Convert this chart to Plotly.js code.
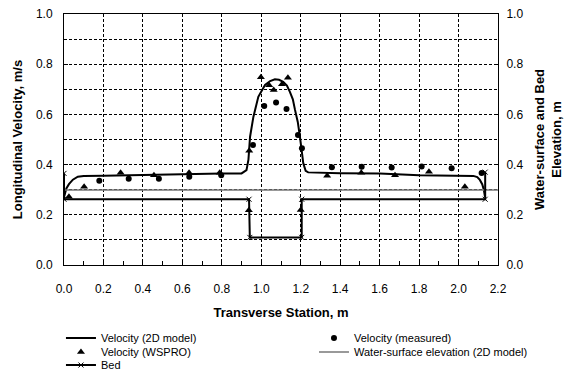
<!DOCTYPE html>
<html>
<head>
<meta charset="utf-8">
<script src="https://cdn.plot.ly/plotly-3.0.1.min.js"></script>
<style>html,body{margin:0;padding:0;background:#fff;}</style>
</head>
<body>
<div id="chart" style="width:570px;height:382px;"></div>
<script>
// Velocity (2D model)
const modelX = [0, 0.005, 0.012, 0.025, 0.045, 0.07, 0.1, 0.2, 0.4, 0.6, 0.8, 0.9, 0.925, 0.935, 0.943, 0.96, 0.985, 1.019, 1.045, 1.069, 1.09, 1.111, 1.13, 1.145, 1.16, 1.171, 1.185, 1.196, 1.205, 1.213, 1.225, 1.238, 1.4, 1.6, 1.8, 1.9, 2.0, 2.075, 2.095, 2.108, 2.12, 2.128, 2.134];
const modelV = [0.27, 0.29, 0.305, 0.322, 0.34, 0.352, 0.355, 0.356, 0.36, 0.362, 0.365, 0.365, 0.378, 0.42, 0.51, 0.59, 0.67, 0.717, 0.733, 0.74, 0.738, 0.73, 0.715, 0.69, 0.66, 0.618, 0.57, 0.511, 0.45, 0.405, 0.375, 0.369, 0.366, 0.365, 0.358, 0.357, 0.356, 0.355, 0.35, 0.339, 0.322, 0.30, 0.272];
// Velocity (measured)
const measX = [0.179, 0.328, 0.481, 0.635, 0.797, 0.958, 1.015, 1.075, 1.128, 1.186, 1.206, 1.358, 1.509, 1.661, 1.813, 1.965, 2.117];
const measV = [0.336, 0.344, 0.344, 0.352, 0.358, 0.478, 0.633, 0.647, 0.622, 0.518, 0.465, 0.389, 0.391, 0.388, 0.392, 0.385, 0.367];
// Velocity (WSPRO)
const wsproX = [0.025, 0.102, 0.287, 0.456, 0.634, 0.789, 0.937, 0.939, 0.998, 1.04, 1.063, 1.105, 1.135, 1.2, 1.334, 1.507, 1.678, 1.85, 2.032];
const wsproV = [0.272, 0.312, 0.368, 0.358, 0.368, 0.368, 0.218, 0.455, 0.748, 0.716, 0.697, 0.72, 0.746, 0.219, 0.356, 0.368, 0.358, 0.372, 0.312];
// Water-surface elevation (2D model)
const wsX = [0, 2.2];
const wsY = [0.299, 0.299];
// Bed
const bedX = [0, 0, 0.938, 0.942, 1.205, 1.205, 2.135, 2.135];
const bedY = [0.365, 0.262, 0.262, 0.11, 0.11, 0.262, 0.262, 0.37];

const FONT = 'Liberation Sans, Arial, sans-serif';

const traces = [
  {x: modelX, y: modelV, type: 'scatter', mode: 'lines', name: 'Velocity (2D model)',
   line: {color: '#000', width: 2}, legend: 'legend'},
  {x: measX, y: measV, type: 'scatter', mode: 'markers', name: 'Velocity (measured)',
   marker: {symbol: 'circle', size: 6, color: '#000'}, legend: 'legend2'},
  {x: wsproX, y: wsproV, type: 'scatter', mode: 'markers', name: 'Velocity (WSPRO)',
   marker: {symbol: 'triangle-up', size: 7, color: '#000'}, legend: 'legend3'},
  {x: wsX, y: wsY, type: 'scatter', mode: 'lines', name: 'Water-surface elevation (2D model)',
   line: {color: '#777', width: 1.5}, yaxis: 'y2', legend: 'legend4'},
  {x: bedX, y: bedY, type: 'scatter', mode: 'lines+markers', name: 'Bed',
   line: {color: '#000', width: 2}, marker: {symbol: 'x-thin-open', size: 5, color: '#000', line: {color: '#000', width: 1}},
   yaxis: 'y2', legend: 'legend5'}
];

function leg(x, y) {
  return {x: x, y: y, xref: 'paper', yref: 'container', xanchor: 'left', yanchor: 'middle',
          bgcolor: 'rgba(0,0,0,0)', borderwidth: 0,
          font: {family: FONT, size: 11, color: '#000'}, itemwidth: 30, tracegroupgap: 0};
}

const axisCommon = {
  showline: true, linecolor: '#000', linewidth: 1,
  ticks: 'inside', ticklen: 4, tickcolor: '#000',
  tickfont: {family: FONT, size: 12, color: '#000'},
  zeroline: false, automargin: false
};

const layout = {
  width: 570, height: 382,
  margin: {l: 64, r: 72, t: 14, b: 117},
  paper_bgcolor: '#fff', plot_bgcolor: '#fff',
  font: {family: FONT, color: '#000'},
  xaxis: Object.assign({}, axisCommon, {
    range: [0, 2.2], dtick: 0.2, tick0: 0, tickformat: '.1f', mirror: true,
    showgrid: true, gridcolor: '#000', gridwidth: 1, griddash: '3px,2px',
    minor: {dtick: 0.1, ticks: 'inside', ticklen: 4, tickcolor: '#000', showgrid: false},
    ticklabelstandoff: 13,
    title: {text: 'Transverse Station, m', font: {family: FONT, size: 13, color: '#000', weight: 'bold'}, standoff: 12}
  }),
  yaxis: Object.assign({}, axisCommon, {
    range: [0, 1], dtick: 0.2, tick0: 0, tickformat: '.1f',
    showgrid: true, gridcolor: '#000', gridwidth: 1, griddash: '3px,2px',
    minor: {dtick: 0.1, showgrid: true, gridcolor: '#000', gridwidth: 1, griddash: '3px,2px', ticks: ''},
    ticklabelstandoff: 8,
    title: {text: 'Longitudinal Velocity, m/s', font: {family: FONT, size: 13, color: '#000', weight: 'bold'}, standoff: 10}
  }),
  yaxis2: Object.assign({}, axisCommon, {
    range: [0, 1], dtick: 0.2, tick0: 0, tickformat: '.1f',
    overlaying: 'y', side: 'right', showgrid: false,
    ticklabelstandoff: 5,
    title: {text: 'Water-surface and Bed<br>Elevation, m', font: {family: FONT, size: 13, color: '#000', weight: 'bold'}, standoff: 12}
  }),
  showlegend: true,
  legend: leg(-0.007, 0.1152),
  legend3: leg(-0.007, 0.0785),
  legend5: leg(-0.007, 0.0445),
  legend2: leg(0.576, 0.1152),
  legend4: leg(0.576, 0.0785)
};

Plotly.newPlot('chart', traces, layout, {displayModeBar: false, staticPlot: true});
</script>
</body>
</html>
